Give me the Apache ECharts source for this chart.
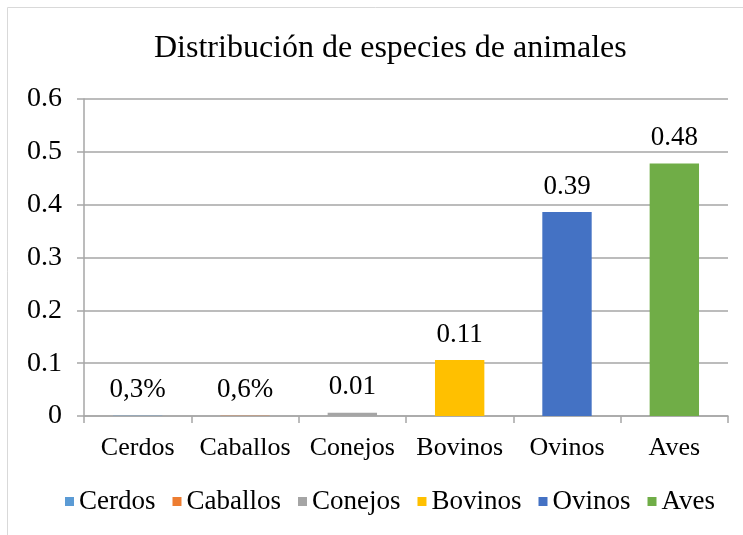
<!DOCTYPE html>
<html>
<head>
<meta charset="utf-8">
<script src="https://cdn.jsdelivr.net/npm/echarts@6/dist/echarts.min.js"></script>
<style>
  html, body { margin: 0; padding: 0; background: #fff; }
  #chart { width: 743px; height: 535px; }
</style>
</head>
<body>
<div id="chart"></div>
<script>
// datos
const categorias = ['Cerdos', 'Caballos', 'Conejos', 'Bovinos', 'Ovinos', 'Aves']
const valores = [0.0003, 0.0006, 0.006, 0.106, 0.386, 0.478]
const etiquetas = ['0,3%', '0,6%', '0.01', '0.11', '0.39', '0.48']
const colores = ['#5B9BD5', '#ED7D31', '#A5A5A5', '#FFC000', '#4472C4', '#70AD47']
const yTicks = [0, 0.1, 0.2, 0.3, 0.4, 0.5, 0.6]

const fuente = '"Liberation Serif", "Times New Roman", serif'
const gris = '#a6a6a6'

const chart = echarts.init(document.getElementById('chart'))

// una serie por categoria para que la leyenda muestre cada color
const series = categorias.map((nombre, i) => ({
  name: nombre,
  type: 'bar',
  stack: 'total',
  barWidth: '46%',
  itemStyle: { color: colores[i] },
  label: {
    show: true,
    position: 'top',
    distance: 12,
    color: '#000',
    fontFamily: fuente,
    fontSize: 27,
    formatter: () => etiquetas[i]
  },
  data: categorias.map((c, j) => (j === i ? valores[i] : null))
}))

chart.setOption({
  animation: false,
  textStyle: { fontFamily: fuente },
  graphic: [{
    type: 'rect',
    shape: { x: 7.5, y: 7.5, width: 760, height: 560 },
    style: { fill: 'none', stroke: '#d9d9d9', lineWidth: 1 },
    silent: true
  }],
  title: {
    text: 'Distribución de especies de animales',
    left: 149,
    top: 28,
    textStyle: { fontFamily: fuente, fontSize: 32, fontWeight: 'normal', color: '#000' }
  },
  legend: {
    data: categorias,
    bottom: 15,
    left: 60,
    icon: 'rect',
    itemWidth: 9,
    itemHeight: 9,
    itemGap: 17,
    textStyle: { fontFamily: fuente, fontSize: 27, color: '#000' }
  },
  grid: { left: 84, right: 15, top: 99, bottom: 119 },
  xAxis: {
    type: 'category',
    data: categorias,
    axisLine: { lineStyle: { color: gris, width: 1.5 } },
    axisTick: { show: true, length: 7, lineStyle: { color: gris, width: 1.5 } },
    axisLabel: {
      color: '#000', fontFamily: fuente, fontSize: 26, margin: 19,
      interval: 0, hideOverlap: false
    }
  },
  yAxis: {
    type: 'value',
    min: 0,
    max: 0.6,
    interval: 0.1,
    axisLine: { show: true, lineStyle: { color: gris, width: 1.5 } },
    axisTick: { show: true, length: 7, lineStyle: { color: gris, width: 1.5 } },
    splitLine: { lineStyle: { color: gris, width: 1.5 } },
    axisLabel: {
      color: '#000', fontFamily: fuente, fontSize: 28, margin: 22,
      formatter: v => String(yTicks[Math.round(v * 10)])
    }
  },
  series: series
})
</script>
</body>
</html>
